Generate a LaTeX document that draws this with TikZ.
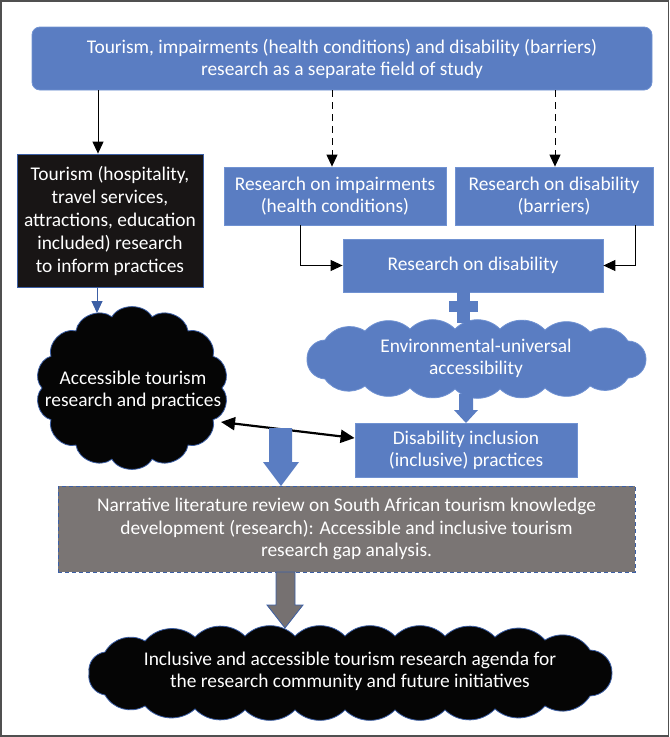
\documentclass[tikz,border=0pt]{standalone}
\usepackage{fontspec}
\setmainfont{Carlito}
\usetikzlibrary{arrows.meta}
\definecolor{mblue}{RGB}{90,125,194}
\definecolor{mblueline}{RGB}{112,146,210}
\definecolor{mdarkline}{RGB}{60,95,165}
\definecolor{mdark}{RGB}{24,21,21}
\definecolor{mcloud}{RGB}{5,5,5}
\definecolor{mgray}{RGB}{122,117,116}
\definecolor{mgrayarrow}{RGB}{118,113,113}
\definecolor{mframe}{RGB}{80,80,80}
\begin{document}
\begin{tikzpicture}[x=1pt,y=-1pt,
  txt/.style={font=\fontsize{19.4}{22}\selectfont, text=white, align=center, inner sep=0pt},
  bluebox/.style={txt, rectangle, fill=mblue, draw=mblueline, line width=0.8pt},
  darkbox/.style={txt, rectangle, fill=mdark, draw=mdarkline, line width=0.8pt},
  graybox/.style={txt, rectangle, fill=mgray, draw=mdarkline, line width=0.9pt, dash pattern=on 4pt off 3pt},
  blackcloud/.style={fill=mcloud, draw=mdarkline, line width=0.8pt},
  bluecloud/.style={fill=mblue, draw=mblueline, line width=0.8pt},
  conn/.style={line width=1pt, black, -{Triangle[length=12pt,width=11pt]}},
  dconn/.style={conn, dash pattern=on 7pt off 5pt},
  bconn/.style={line width=1pt, mdarkline, -{Triangle[length=12pt,width=11pt]}},
  dbl/.style={line width=2.2pt, black, {Triangle[length=14pt,width=13pt]}-{Triangle[length=14pt,width=13pt]}},
  blockblue/.style={fill=mblue, draw=none},
  blockgray/.style={fill=mgrayarrow, draw=mdarkline, line width=0.8pt}
]
\useasboundingbox (0,0) rectangle (670,737);
\draw[mframe, line width=1.6pt] (1,1) rectangle (668.5,736);

% cloud shapes
\draw[blackcloud] (42,388) to[bend left=60] (50.9,356.3) to[bend left=60] (75.9,330.9)
  to[bend left=60] (111.9,316.8) to[bend left=60] (152.1,316.8) to[bend left=60] (188.1,330.9)
  to[bend left=60] (213.1,356.3) to[bend left=60] (222,388) to[bend left=60] (213.1,419.7)
  to[bend left=60] (188.1,445.1) to[bend left=60] (152.1,459.2) to[bend left=60] (111.9,459.2)
  to[bend left=60] (75.9,445.1) to[bend left=60] (50.9,419.7) to[bend left=60] (42,388) -- cycle;
\draw[bluecloud] (307,359) to[bend left=45] (325,340) to[bend left=45] (365,331) to[bend left=45] (410,329)
  to[bend left=45] (455,329) to[bend left=45] (500,329) to[bend left=45] (545,330) to[bend left=45] (590,332)
  to[bend left=45] (628,341) to[bend left=45] (646,359) to[bend left=45] (628,378) to[bend left=45] (590,386)
  to[bend left=45] (545,388) to[bend left=45] (500,389) to[bend left=45] (455,389) to[bend left=45] (410,388)
  to[bend left=45] (365,386) to[bend left=45] (325,379) to[bend left=45] (307,359) -- cycle;
\draw[blackcloud] (89,673) to[bend left=45] (105,652) to[bend left=45] (145,641) to[bend left=45] (195,637)
  to[bend left=45] (245,636) to[bend left=45] (295,636) to[bend left=45] (345,636) to[bend left=45] (395,636)
  to[bend left=45] (445,636) to[bend left=45] (495,637) to[bend left=45] (545,640) to[bend left=45] (590,650)
  to[bend left=45] (612,673) to[bend left=45] (590,696) to[bend left=45] (545,706) to[bend left=45] (495,709)
  to[bend left=45] (445,710) to[bend left=45] (395,710) to[bend left=45] (345,710) to[bend left=45] (295,710)
  to[bend left=45] (245,710) to[bend left=45] (195,709) to[bend left=45] (145,706) to[bend left=45] (105,695)
  to[bend left=45] (89,673) -- cycle;

% nodes
\node[bluebox, rounded corners=8pt, minimum width=620, minimum height=63] (top) at (342,58.5)
  {Tourism, impairments (health conditions) and disability (barriers)\\research as a separate field of study};
\node[darkbox, minimum width=186, minimum height=133, font=\fontsize{19.4}{23}\selectfont] (tour) at (110,220.5)
  {Tourism (hospitality,\\travel services,\\attractions, education\\included) research\\to inform practices};
\node[bluebox, minimum width=222, minimum height=58] (imp) at (335,196)
  {Research on impairments\\(health conditions)};
\node[bluebox, minimum width=198, minimum height=58] (bar) at (554,196)
  {Research on disability\\(barriers)};
\node[bluebox, minimum width=260, minimum height=53] (rd) at (473,265.5)
  {Research on disability};
\node[txt] (acc) at (133,390) {Accessible tourism\\research and practices};
\node[txt] (env) at (476,358) {Environmental-universal\\accessibility};
\node[bluebox, minimum width=222, minimum height=54] (di) at (466,450)
  {Disability inclusion\\(inclusive) practices};
\node[graybox, minimum width=577, minimum height=86, font=\fontsize{19.4}{22.5}\selectfont] (nar) at (346.5,529)
  {Narrative literature review on South African tourism knowledge\\development (research): Accessible and inclusive tourism\\research gap analysis.};
\node[txt] (agenda) at (350,671)
  {Inclusive and accessible tourism research agenda for\\the research community and future initiatives};

% coordinates for connector ends
\coordinate (xl) at (98,0);
\coordinate (xi) at (332,0);
\coordinate (xb) at (555,0);
\coordinate (xt) at (97,0);
\coordinate (acctop) at (97,313);
\coordinate (accright) at (221,422);

% connectors
\draw[conn] (top.south -| xl) -- (tour.north -| xl);
\draw[dconn] (top.south -| xi) -- (imp.north -| xi);
\draw[dconn] (top.south -| xb) -- (bar.north -| xb);
\draw[bconn] (tour.south -| xt) -- (acctop);
\draw[conn] ([xshift=-35pt]imp.south) |- (rd.west);
\draw[conn] ([xshift=81pt]bar.south) |- (rd.east);
\draw[dbl] (accright) -- ([yshift=12pt]di.west);

% plus connector between rd and env
\fill[mblue] (457,291) rectangle (470,323);
\fill[mblue] (449,301) rectangle (478,312);

% block arrow env -> di
\fill[blockblue] (459,394) -- (473,394) -- (473,410) -- (478,410) -- (466,423) -- (454,410) -- (459,410) -- cycle;

% block arrow left -> narrative
\fill[blockblue] (269,428) -- (292,428) -- (292,462) -- (299,462) -- (281,486) -- (263,462) -- (269,462) -- cycle;

% gray block arrow narrative -> agenda
\draw[blockgray] (276,572) -- (295,572) -- (295,605) -- (303,605) -- (285,628) -- (267,605) -- (276,605) -- cycle;
\end{tikzpicture}
\end{document}
